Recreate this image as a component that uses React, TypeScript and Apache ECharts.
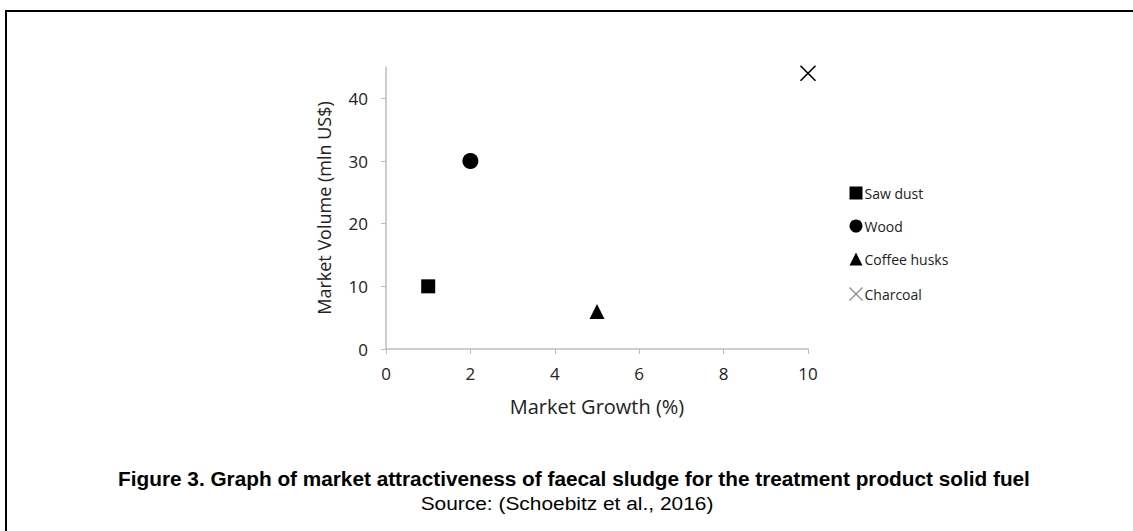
import React, { useEffect, useRef } from "react";
import * as echarts from "echarts";

const seriesNames = ["Saw dust", "Wood", "Coffee husks", "Charcoal"];
const growthValues = [1, 2, 5, 10];
const volumeValues = [10, 30, 6, 44];
const xTicks = [0, 2, 4, 6, 8, 10];
const yTicks = [0, 10, 20, 30, 40];
const titleText = "Figure 3. Graph of market attractiveness of faecal sludge for the treatment product solid fuel";
const sourceText = "Source: (Schoebitz et al., 2016)";

const crossPath = "path://M0,0L10,10M10,0L0,10";

export default function App() {
  const ref = useRef<HTMLDivElement>(null);
  useEffect(() => {
    if (!ref.current) return;
    const chart = echarts.init(ref.current, null, { renderer: "svg" });
    const symbols = ["rect", "circle", "triangle", crossPath];
    const sizes = [14, 16, 15, 15];
    const series = seriesNames.map((name, i) => {
      const isCross = i === 3;
      return {
        name,
        type: "scatter",
        data: [[growthValues[i], volumeValues[i]]],
        symbol: symbols[i],
        symbolSize: sizes[i],
        itemStyle: isCross
          ? { color: "none", borderColor: "#000", borderWidth: 1.6, opacity: 1 }
          : { color: "#000", opacity: 1 },
      };
    });
    chart.setOption({
      animation: false,
      backgroundColor: "#fff",
      textStyle: { fontFamily: "Open Sans" },
      grid: { left: 386, right: 325, top: 67, bottom: 182, containLabel: false },
      xAxis: {
        type: "value",
        min: 0,
        max: 10,
        interval: 2,
        name: "Market Growth (%)",
        nameLocation: "middle",
        nameGap: 47,
        nameTextStyle: { fontSize: 20, color: "#222", fontFamily: "Open Sans" },
        axisLine: { lineStyle: { color: "#bdbdbd", width: 1.5 } },
        axisTick: { show: true, length: 5, lineStyle: { color: "#bdbdbd" } },
        axisLabel: { fontSize: 17, color: "#222", margin: 16, customValues: xTicks },
        splitLine: { show: false },
      },
      yAxis: {
        type: "value",
        min: 0,
        max: 45,
        name: "Market Volume (mln US$)",
        nameLocation: "middle",
        nameGap: 53,
        nameTextStyle: { fontSize: 18, color: "#222", fontFamily: "Open Sans" },
        axisLine: { show: true, lineStyle: { color: "#bdbdbd", width: 1.5 } },
        axisTick: { show: true, length: 5, lineStyle: { color: "#bdbdbd" }, customValues: yTicks },
        axisLabel: { fontSize: 17, color: "#222", margin: 18, customValues: yTicks },
        splitLine: { show: false },
      },
      legend: {
        orient: "vertical",
        left: 842,
        top: 181,
        itemGap: 19,
        itemWidth: 13,
        itemHeight: 13,
        textStyle: { fontSize: 14, color: "#222", padding: [0, 0, 0, -3] },
        data: seriesNames.map((n, i) => ({
          name: n,
          icon: symbols[i],
          itemStyle:
            i === 3
              ? { color: "none", borderColor: "#888", borderWidth: 1.2, opacity: 1 }
              : { color: "#000", opacity: 1 },
        })),
      },
      series,
      graphic: [
        { type: "line", shape: { x1: 5, y1: 11, x2: 1133, y2: 11 }, style: { stroke: "#000", lineWidth: 2 } },
        { type: "line", shape: { x1: 6, y1: 10, x2: 6, y2: 531 }, style: { stroke: "#000", lineWidth: 2 } },
        {
          type: "text",
          x: 574,
          y: 478,
          scaleX: 0.99,
          style: {
            text: titleText,
            fontFamily: "Liberation Sans",
            fontWeight: "bold",
            fontSize: 21,
            fill: "#000",
            align: "center",
            verticalAlign: "middle",
          },
        },
        {
          type: "text",
          x: 567,
          y: 503,
          scaleX: 1.1,
          style: {
            text: sourceText,
            fontFamily: "Liberation Sans",
            fontSize: 19,
            fill: "#000",
            align: "center",
            verticalAlign: "middle",
          },
        },
      ],
    });
    return () => chart.dispose();
  }, []);
  return <div ref={ref} style={{ position: "fixed", left: 0, top: 0, width: 1133, height: 531 }} />;
}
